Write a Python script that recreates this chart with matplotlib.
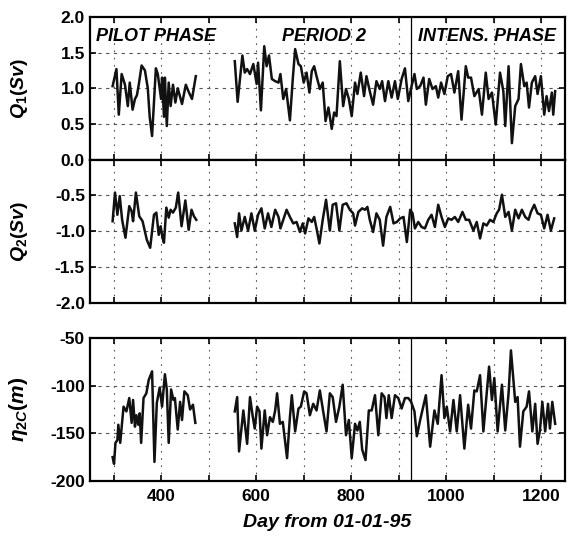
import numpy as np
import matplotlib
matplotlib.use("Agg")
import matplotlib.pyplot as plt

plt.rcParams['font.family'] = ['Liberation Sans', 'DejaVu Sans']
plt.rcParams['font.weight'] = 'bold'
plt.rcParams['axes.unicode_minus'] = False
plt.rcParams['mathtext.fontset'] = 'custom'
plt.rcParams['mathtext.it'] = 'Liberation Sans:italic:bold'
plt.rcParams['mathtext.rm'] = 'Liberation Sans:bold'
plt.rcParams['mathtext.bf'] = 'Liberation Sans:bold'

# Q1 transport (Sv)
q1_pilot_day = [298, 306, 311, 317, 324, 330, 334, 340, 345, 349, 353, 359, 366, 372, 376, 381,
                389, 393, 400, 402, 406, 408, 412, 416, 420, 425, 430, 435, 444, 452, 458, 465, 473]
q1_pilot = [1.03, 1.27, 0.63, 1.20, 1.05, 0.75, 1.08, 0.70, 0.85, 0.90, 1.05, 1.32, 1.25, 1.00, 0.60, 0.33,
            1.28, 1.20, 0.85, 1.15, 0.60, 1.15, 0.47, 1.08, 0.75, 1.05, 0.80, 1.00, 0.78, 1.05, 0.95, 0.85, 1.17]
q1_main_day = [555, 561, 571, 576, 581, 587, 594, 601, 604, 610, 617, 622, 627, 633, 640, 647, 651, 657,
               663, 671, 677, 682, 689, 694, 700, 706, 712, 717, 722, 727, 734, 740, 746, 752, 759, 764,
               769, 776, 783, 789, 795, 801, 808, 813, 820, 827, 832, 839, 846, 853, 860, 865, 871, 878,
               885, 892, 898, 906, 913, 920, 927, 933, 938, 945, 952, 957, 964, 971, 978, 983, 989, 996,
               1003, 1010, 1017, 1025, 1032, 1041, 1046, 1052, 1059, 1068, 1075, 1083, 1089, 1096, 1104,
               1113, 1120, 1124, 1131, 1138, 1145, 1152, 1157, 1164, 1169, 1174, 1180, 1187, 1192, 1199,
               1206, 1211, 1216, 1222, 1225, 1229]
q1_main = [1.38, 0.81, 1.46, 1.22, 1.27, 1.20, 1.34, 1.06, 1.36, 0.69, 1.59, 1.31, 1.46, 1.13, 1.10, 1.08,
           1.20, 0.85, 0.99, 0.55, 1.13, 1.55, 1.34, 1.31, 1.08, 1.22, 0.94, 1.24, 1.31, 1.17, 0.99, 1.08,
           0.54, 0.73, 0.43, 0.66, 0.61, 1.38, 0.75, 0.99, 0.85, 0.61, 1.08, 0.92, 1.22, 0.89, 1.17, 0.96,
           0.77, 1.10, 0.99, 1.10, 0.82, 1.10, 0.87, 1.10, 0.85, 1.13, 1.28, 0.82, 1.03, 1.20, 0.99, 1.03,
           1.15, 0.77, 1.13, 0.99, 1.03, 0.87, 1.08, 0.92, 1.17, 1.20, 0.94, 1.24, 0.56, 1.31, 1.15, 1.15,
           0.89, 0.99, 0.63, 1.22, 0.85, 0.94, 0.49, 1.22, 0.96, 0.47, 1.31, 0.23, 0.75, 0.85, 1.34, 1.03,
           1.08, 0.73, 1.08, 1.17, 0.92, 1.17, 0.63, 0.89, 0.68, 0.94, 0.63, 0.96]

# Q2 transport (Sv)
q2_pilot_day = [298, 303, 308, 313, 318, 325, 333, 338, 341, 347, 354, 361, 370, 377, 385, 390, 395,
                399, 403, 406, 411, 416, 420, 425, 431, 436, 443, 451, 458, 464, 469, 474]
q2_pilot = [-0.86, -0.46, -0.77, -0.51, -0.84, -1.09, -0.65, -0.72, -0.86, -0.46, -0.79, -0.86, -1.12,
            -1.23, -0.77, -0.74, -1.05, -0.93, -1.09, -1.16, -0.67, -0.81, -0.70, -0.74, -0.67, -0.46,
            -0.93, -0.57, -0.98, -0.70, -0.79, -0.84]
q2_main_day = [555, 560, 564, 569, 576, 583, 590, 597, 604, 611, 618, 625, 632, 640, 647, 651, 657, 664,
               671, 678, 685, 692, 698, 703, 710, 717, 722, 727, 733, 740, 747, 755, 761, 768, 775, 782,
               790, 797, 804, 808, 815, 823, 829, 834, 839, 846, 853, 860, 867, 874, 882, 889, 896, 903,
               910, 917, 924, 929, 934, 941, 948, 955, 962, 969, 976, 983, 990, 997, 1004, 1011, 1018,
               1025, 1034, 1041, 1048, 1057, 1064, 1071, 1078, 1085, 1092, 1099, 1106, 1111, 1117, 1124,
               1131, 1138, 1145, 1152, 1159, 1166, 1173, 1178, 1185, 1192, 1199, 1206, 1213, 1220, 1227]
q2_main = [-0.89, -1.08, -0.75, -0.99, -0.80, -0.99, -0.75, -0.99, -0.77, -0.68, -0.96, -0.75, -0.94,
           -0.70, -0.80, -0.96, -0.84, -0.70, -0.80, -0.89, -0.87, -1.01, -0.89, -1.03, -0.82, -0.87,
           -0.80, -0.96, -1.17, -0.84, -0.56, -0.99, -0.63, -0.61, -0.99, -0.63, -0.61, -0.70, -0.75,
           -0.92, -0.73, -0.68, -0.70, -0.66, -0.84, -1.01, -0.75, -0.84, -1.20, -0.80, -0.66, -0.89,
           -0.87, -0.82, -0.80, -1.15, -0.70, -0.75, -0.96, -0.87, -0.94, -0.96, -0.84, -0.77, -0.94,
           -0.63, -0.80, -0.94, -0.82, -0.84, -0.80, -0.87, -0.73, -0.84, -0.84, -0.99, -0.87, -1.10,
           -0.89, -0.92, -0.84, -0.87, -0.75, -0.70, -0.49, -0.80, -0.73, -0.99, -0.70, -0.82, -0.70,
           -0.80, -0.84, -0.73, -0.63, -0.75, -0.77, -0.96, -0.77, -0.99, -0.82]

# eta_2C (m)
eta_pilot_day = [298, 301, 304, 308, 310, 314, 321, 327, 333, 338, 341, 345, 348, 352, 355, 358, 363,
                 369, 374, 381, 386, 391, 397, 402, 408, 412, 416, 421, 426, 429, 435, 440, 444, 449,
                 456, 461, 467, 472]
eta_pilot = [-175, -182, -160, -157, -141, -160, -122, -127, -113, -139, -115, -143, -131, -141, -129,
             -160, -113, -108, -94, -85, -180, -118, -102, -122, -88, -104, -160, -104, -115, -113, -146,
             -117, -136, -106, -110, -125, -120, -139]
eta_main_day = [555, 560, 564, 573, 581, 587, 593, 597, 602, 607, 611, 618, 623, 629, 635, 640, 644, 650,
                656, 665, 671, 675, 682, 689, 694, 701, 706, 713, 720, 727, 734, 741, 748, 755, 761, 768,
                775, 782, 789, 795, 801, 808, 813, 818, 823, 830, 837, 843, 850, 857, 864, 870, 874, 879,
                885, 892, 899, 906, 913, 920, 926, 933, 938, 945, 957, 966, 975, 982, 990, 996, 1001,
                1008, 1015, 1022, 1029, 1038, 1046, 1052, 1059, 1064, 1071, 1078, 1085, 1090, 1096, 1101,
                1108, 1117, 1124, 1131, 1136, 1145, 1150, 1155, 1162, 1169, 1174, 1181, 1187, 1192, 1197,
                1202, 1208, 1214, 1218, 1223, 1229]
eta_main = [-127, -112, -169, -126, -161, -112, -133, -145, -122, -127, -166, -126, -152, -133, -138,
            -126, -108, -140, -138, -176, -133, -110, -148, -124, -122, -106, -108, -131, -119, -126,
            -105, -127, -148, -108, -112, -138, -122, -99, -152, -136, -176, -140, -147, -138, -167,
            -178, -126, -126, -110, -152, -108, -112, -134, -110, -134, -110, -113, -124, -113, -113,
            -117, -127, -153, -136, -110, -164, -126, -140, -89, -134, -122, -148, -115, -148, -110,
            -166, -120, -145, -105, -106, -89, -148, -108, -80, -115, -92, -148, -99, -147, -108, -63,
            -117, -112, -164, -127, -122, -106, -148, -119, -161, -147, -117, -148, -119, -145, -117,
            -140]

xticks = list(range(300, 1300, 100))
xticklabels = [str(t) if t % 200 == 0 else '' for t in xticks]
vline_day = 925

fig = plt.figure(figsize=(5.72, 5.39), dpi=100)
ax1 = fig.add_axes([0.157, 0.704, 0.831, 0.2644])
ax2 = fig.add_axes([0.157, 0.4378, 0.831, 0.2662])
ax3 = fig.add_axes([0.157, 0.1076, 0.831, 0.2653])


def style(ax, yticks, ylim, ygrid):
    ax.set_xlim(250, 1250)
    ax.set_ylim(*ylim)
    ax.set_yticks(yticks)
    ax.set_xticks(xticks)
    ax.tick_params(direction='in', top=True, right=True, labelsize=12.5, length=4, width=1.2)
    for t in ax.get_yticklabels() + ax.get_xticklabels():
        t.set_fontweight('bold')
    for s in ax.spines.values():
        s.set_linewidth(1.6)
    for y in ygrid:
        ax.axhline(y, color='#555555', lw=0.8, ls=(0, (3, 4)), zorder=0)
    for x in xticks:
        ax.axvline(x, color='#555555', lw=0.8, ls=(0, (1.5, 5)), zorder=0)
    ax.axvline(vline_day, color='black', lw=0.9)


style(ax1, [0.0, 0.5, 1.0, 1.5, 2.0], (0, 2), [0.5, 1.0, 1.5])
ax1.plot(q1_pilot_day, q1_pilot, color='#111111', lw=1.8)
ax1.plot(q1_main_day, q1_main, color='#111111', lw=1.8)
ax1.set_yticklabels(['0.0', '0.5', '1.0', '1.5', '2.0'])
ax1.set_xticklabels([])
ax1.set_ylabel(r'$Q_1(Sv)$', fontsize=14)
ax1.yaxis.set_label_coords(-0.125, 0.5)
txt = dict(fontsize=13, fontweight='bold', fontstyle='italic', va='center')
ax1.text(263, 1.73, 'PILOT PHASE', **txt)
ax1.text(654, 1.73, 'PERIOD 2', **txt)
ax1.text(940, 1.73, 'INTENS. PHASE', **txt)

style(ax2, [-2.0, -1.5, -1.0, -0.5], (-2, 0), [-0.5, -1.0, -1.5])
ax2.plot(q2_pilot_day, q2_pilot, color='#111111', lw=1.8)
ax2.plot(q2_main_day, q2_main, color='#111111', lw=1.8)
ax2.set_yticklabels(['-2.0', '-1.5', '-1.0', '-0.5'])
ax2.set_xticklabels([])
ax2.set_ylabel(r'$Q_2(Sv)$', fontsize=14)
ax2.yaxis.set_label_coords(-0.125, 0.5)

style(ax3, [-200, -150, -100, -50], (-200, -50), [-100, -150])
ax3.plot(eta_pilot_day, eta_pilot, color='#111111', lw=1.8)
ax3.plot(eta_main_day, eta_main, color='#111111', lw=1.8)
ax3.set_xticklabels(xticklabels)
ax3.tick_params(axis='x', pad=6)
ax3.set_ylabel(r'$\eta_{2C}(m)$', fontsize=15)
ax3.yaxis.set_label_coords(-0.125, 0.5)
ax3.set_xlabel('Day from 01-01-95', fontsize=14, fontweight='bold', fontstyle='italic', labelpad=7)

fig.savefig('out.png', dpi=100)
